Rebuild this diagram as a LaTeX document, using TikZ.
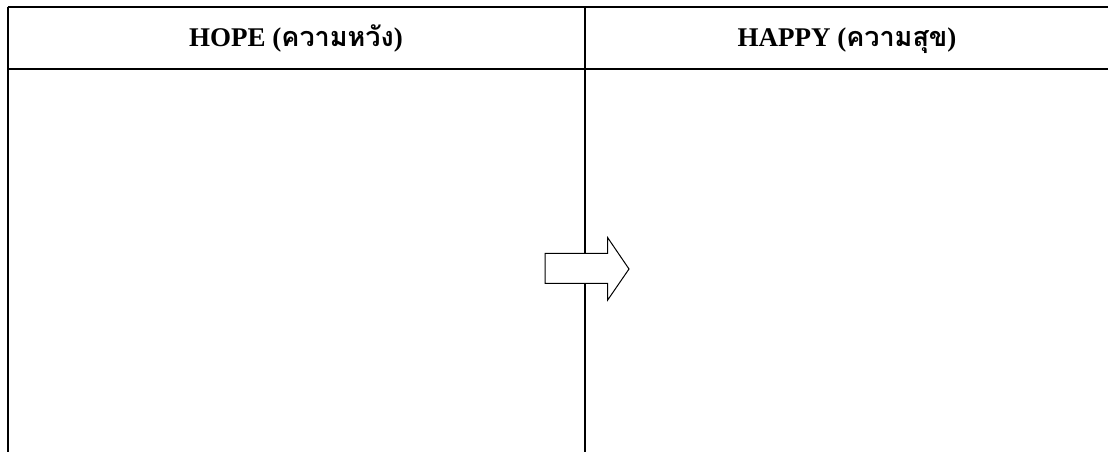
\documentclass[tikz,border=0pt]{standalone}
\usepackage{fontspec}
\setmainfont{Liberation Serif}
\newfontfamily\thaifont[Script=Thai]{Loma}
\begin{document}
\begin{tikzpicture}[x=1pt,y=-1pt,
  rule/.style={line width=2pt},
  head/.style={font=\fontsize{27}{30}\selectfont\bfseries, inner sep=0pt, anchor=base},
  bigarrow/.style={draw, line width=1pt, fill=white, line join=miter}]
\useasboundingbox (0,0) rectangle (1108,452);
\coordinate (tl) at (7.5,7.5);
\coordinate (tr) at (1108,7.5);
\coordinate (hl) at (7.5,69);
\coordinate (hr) at (1108,69);
\coordinate (bl) at (7.5,452);
\coordinate (mt) at (584.5,7.5);
\coordinate (mb) at (584.5,452);
\draw[rule] (tl) -- (tr);
\draw[rule] (hl) -- (hr);
\draw[rule] (tl) -- (bl);
\draw[rule] (mt) -- (mb);
\node[head] (hope) at (296,46.5) {HOPE ({\thaifont ความหวัง})};
\node[head] (happy) at (847,46.5) {HAPPY ({\thaifont ความสุข})};
\draw[bigarrow] (545,253.3) -- (607.7,253.3) -- (607.7,237.7) -- (629,269) -- (607.7,300) -- (607.7,283.3) -- (545,283.3) -- cycle;
\end{tikzpicture}
\end{document}
